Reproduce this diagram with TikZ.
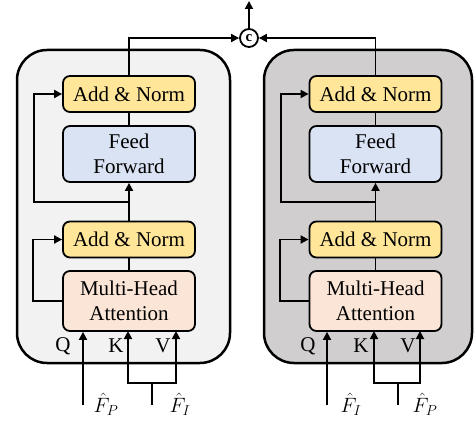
\documentclass[tikz,border=0pt]{standalone}
\usepackage{fontspec}
\setmainfont{Liberation Serif}
\usetikzlibrary{arrows.meta}
\definecolor{anfill}{HTML}{FFE699}
\definecolor{fffill}{HTML}{DAE3F3}
\definecolor{mhfill}{HTML}{FBE5D6}
\definecolor{lcont}{HTML}{F2F2F2}
\definecolor{rcont}{HTML}{D0CECE}
\begin{document}
\begin{tikzpicture}[x=1pt,y=-1pt,
  cont/.style={draw, line width=2.5pt, rounded corners=30pt},
  blk/.style={draw, line width=1.8pt, rounded corners=7pt, minimum width=132pt, align=center, font=\fontsize{21}{25}\selectfont, inner sep=0pt},
  anb/.style={blk, fill=anfill, minimum height=36pt},
  ffb/.style={blk, fill=fffill, minimum height=56pt},
  mhb/.style={blk, fill=mhfill, minimum height=60pt},
  arr/.style={line width=1.8pt, -{Triangle[length=8pt,width=8pt]}},
  ln/.style={line width=1.8pt},
  lab/.style={font=\fontsize{21}{25}\selectfont, inner sep=0pt},
  mlab/.style={font=\fontsize{21}{25}\selectfont, inner sep=0pt}
]
\useasboundingbox (0,0) rectangle (474,422);
% containers
\draw[cont, fill=lcont] (17,50) rectangle (230,363);
\draw[cont, fill=rcont] (264,50) rectangle (472,363);

% concat circle
\node[draw, circle, line width=1.8pt, minimum size=18pt, inner sep=0pt, fill=white, font=\fontsize{15}{15}\selectfont\bfseries] (c) at (249,38) {c};
\coordinate (top) at (249,1);
\draw[arr] (c.north) -- (top);

% ---------- left block ----------
\node[anb] (anL1) at (129,94) {Add \& Norm};
\node[ffb] (ffL) at (129,154) {Feed\\Forward};
\node[anb] (anL2) at (129,239.5) {Add \& Norm};
\node[mhb] (mhL) at (129,301) {Multi-Head\\Attention};

\draw[ln] (ffL.north) -- (anL1.south);
\draw[ln] (mhL.north) -- (anL2.south);
\draw[arr] (anL2.north) -- (ffL.south);
\coordinate (jL) at (129,202);
\coordinate (sL) at (34,202);
\draw[arr] (jL) -- (sL) |- (anL1.west);
\draw[arr] (mhL.west) -- ++(-29,0) |- (anL2.west);
\draw[arr] (anL1.north) |- (c.west);

\coordinate (qL) at (83,405);
\coordinate (mL) at (152,405);
\coordinate (bL) at (152,383);
\coordinate (kL) at (128,331);
\coordinate (vL) at (176,331);
\draw[arr] (qL) -- (qL |- mhL.south);
\draw[ln] (mL) -- (bL);
\draw[arr] (bL) -| (kL);
\draw[arr] (bL) -| (vL);

\node[lab] (QL) at (63,346) {Q};
\node[lab] (KL) at (116,346) {K};
\node[lab] (VL) at (163,346) {V};
\node[mlab] (FPL) at (106,404) {$\hat{F}_P$};
\node[mlab] (FIL) at (180,404) {$\hat{F}_I$};

% ---------- right block ----------
\node[anb] (anR1) at (375.5,94) {Add \& Norm};
\node[ffb] (ffR) at (375.5,154) {Feed\\Forward};
\node[anb] (anR2) at (375.5,239.5) {Add \& Norm};
\node[mhb] (mhR) at (375.5,301) {Multi-Head\\Attention};

\draw[ln] (ffR.north) -- (anR1.south);
\draw[ln] (mhR.north) -- (anR2.south);
\draw[arr] (anR2.north) -- (ffR.south);
\coordinate (jR) at (375.5,202);
\coordinate (sR) at (281,202);
\draw[arr] (jR) -- (sR) |- (anR1.west);
\draw[arr] (mhR.west) -- ++(-28.5,0) |- (anR2.west);
\draw[arr] (anR1.north) |- (c.east);

\coordinate (qR) at (327,405);
\coordinate (mR) at (398,405);
\coordinate (bR) at (398,383);
\coordinate (kR) at (374,331);
\coordinate (vR) at (420,331);
\draw[arr] (qR) -- (qR |- mhR.south);
\draw[ln] (mR) -- (bR);
\draw[arr] (bR) -| (kR);
\draw[arr] (bR) -| (vR);

\node[lab] (QR) at (308,346) {Q};
\node[lab] (KR) at (361,346) {K};
\node[lab] (VR) at (408,346) {V};
\node[mlab] (FIR) at (351,404) {$\hat{F}_I$};
\node[mlab] (FPR) at (425,404) {$\hat{F}_P$};
\end{tikzpicture}
\end{document}
